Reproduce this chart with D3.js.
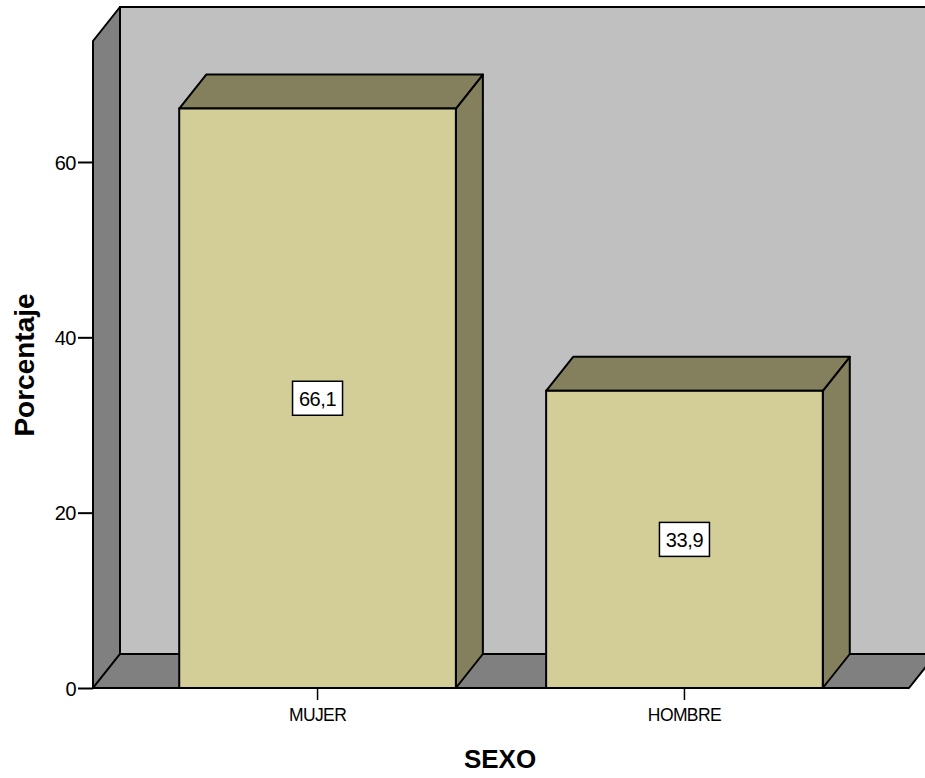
<!DOCTYPE html>
<html>
<head>
<meta charset="utf-8">
<script src="https://cdn.jsdelivr.net/npm/d3@7"></script>
<style>
  html, body { margin: 0; padding: 0; background: #fff; }
  svg { display: block; }
  text { font-family: "Liberation Sans", Arial, sans-serif; fill: #000; }
</style>
</head>
<body>
<svg id="chart" width="925" height="778"></svg>
<script>
// Porcentaje por sexo
const categories = ["MUJER", "HOMBRE"];
const values = [66.1, 33.9];
const valueLabels = ["66,1", "33,9"];
const yTicks = [0, 20, 40, 60];

const svg = d3.select("#chart");

// Front plane of the 3D box and the depth offset toward the back
const plotLeft = 93, plotRight = 909, plotBottom = 688, plotTop = 41;
const dx = 27, dy = -34;

const x = d3.scaleBand()
  .domain(categories)
  .range([plotLeft, plotRight])
  .paddingInner(0.246)
  .paddingOuter(0.235);

const y = d3.scaleLinear()
  .domain([0, 73.8])
  .range([plotBottom, plotTop]);

const wallFill = "#808080", backFill = "#C0C0C0";
const barFront = "#D3CE98", barShade = "#84805E";
const sw = 2;

const pts = a => a.map(p => p.join(",")).join(" ");

// Back wall
svg.append("polygon")
  .attr("points", pts([[plotLeft + dx, plotTop + dy], [plotRight + dx + 40, plotTop + dy], [plotRight + dx + 40, plotBottom + dy], [plotLeft + dx, plotBottom + dy]]))
  .attr("fill", backFill).attr("stroke", "#000").attr("stroke-width", sw);

// Left wall
svg.append("polygon")
  .attr("points", pts([[plotLeft, plotTop], [plotLeft + dx, plotTop + dy], [plotLeft + dx, plotBottom + dy], [plotLeft, plotBottom]]))
  .attr("fill", wallFill).attr("stroke", "#000").attr("stroke-width", sw).attr("stroke-linejoin", "round");

// Floor
svg.append("polygon")
  .attr("points", pts([[plotLeft, plotBottom], [plotLeft + dx, plotBottom + dy], [plotRight + dx, plotBottom + dy], [plotRight, plotBottom]]))
  .attr("fill", wallFill).attr("stroke", "#000").attr("stroke-width", sw).attr("stroke-linejoin", "round");

// Bars
const bars = svg.append("g").selectAll("g")
  .data(categories.map((c, i) => ({ c, v: values[i], label: valueLabels[i] })))
  .join("g");

bars.each(function (d) {
  const g = d3.select(this);
  const x0 = x(d.c), x1 = x(d.c) + x.bandwidth();
  const yv = y(d.v), y0 = y(0);
  // right side face
  g.append("polygon")
    .attr("points", pts([[x1, yv], [x1 + dx, yv + dy], [x1 + dx, y0 + dy], [x1, y0]]))
    .attr("fill", barShade).attr("stroke", "#000").attr("stroke-width", sw).attr("stroke-linejoin", "round");
  // top face
  g.append("polygon")
    .attr("points", pts([[x0, yv], [x0 + dx, yv + dy], [x1 + dx, yv + dy], [x1, yv]]))
    .attr("fill", barShade).attr("stroke", "#000").attr("stroke-width", sw).attr("stroke-linejoin", "round");
  // front face
  g.append("rect")
    .attr("x", x0).attr("y", yv)
    .attr("width", x1 - x0).attr("height", y0 - yv)
    .attr("fill", barFront).attr("stroke", "#000").attr("stroke-width", sw);
  // value label box at the middle of the bar
  const cx = (x0 + x1) / 2, cy = y(d.v / 2);
  g.append("rect")
    .attr("x", cx - 25).attr("y", cy - 17)
    .attr("width", 50).attr("height", 34)
    .attr("fill", "#fff").attr("stroke", "#000").attr("stroke-width", 1.5);
  g.append("text")
    .attr("x", cx).attr("y", cy + 7.5)
    .attr("text-anchor", "middle")
    .attr("font-size", 20).attr("letter-spacing", "-0.4px")
    .text(d.label);
});

// Front floor edge
svg.append("line")
  .attr("x1", plotLeft).attr("x2", plotRight).attr("y1", plotBottom).attr("y2", plotBottom)
  .attr("stroke", "#000").attr("stroke-width", sw);

// Y axis ticks and labels
const yAxis = d3.axisLeft(y).tickValues(yTicks).tickSize(15).tickPadding(2).tickFormat(d3.format("d"));
const ya = svg.append("g").attr("transform", `translate(${plotLeft},0)`).call(yAxis);
ya.select(".domain").remove();
ya.selectAll(".tick line").attr("stroke", "#000").attr("stroke-width", 2);
ya.selectAll(".tick text").attr("font-size", 20).attr("letter-spacing", "-0.5px")
  .attr("font-family", "Liberation Sans, Arial, sans-serif").attr("fill", "#000").attr("dy", "0.36em");

// X axis ticks and labels
const xAxis = d3.axisBottom(x).tickSize(12).tickPadding(9);
const xa = svg.append("g").attr("transform", `translate(0,${plotBottom})`).call(xAxis);
xa.select(".domain").remove();
xa.selectAll(".tick line").attr("stroke", "#000").attr("stroke-width", 1.5);
xa.selectAll(".tick text").attr("font-size", 17.5).attr("letter-spacing", "-0.6px")
  .attr("font-family", "Liberation Sans, Arial, sans-serif").attr("fill", "#000");

// Axis titles
svg.append("text")
  .attr("transform", "translate(34,365) rotate(-90)")
  .attr("text-anchor", "middle")
  .attr("font-size", 28).attr("font-weight", "bold")
  .text("Porcentaje");

svg.append("text")
  .attr("x", 500).attr("y", 768)
  .attr("text-anchor", "middle")
  .attr("font-size", 26).attr("font-weight", "bold")
  .text("SEXO");
</script>
</body>
</html>
